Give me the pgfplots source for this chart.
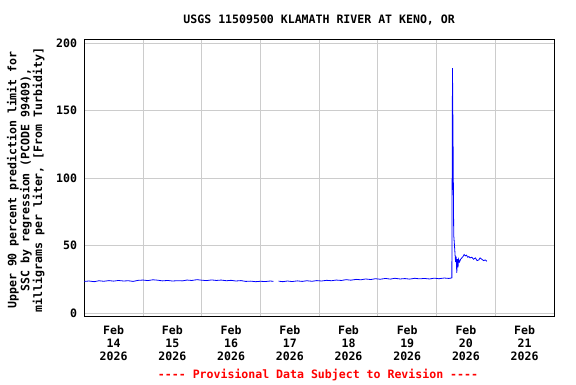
\documentclass[border=0pt]{standalone}
\usepackage{pgfplots}
\pgfplotsset{compat=1.18}
\usepackage{fontspec}
\setmainfont{DejaVu Sans Mono}
\setmonofont{DejaVu Sans Mono}
\definecolor{gridgray}{RGB}{204,204,204}
\definecolor{usgsblue}{RGB}{0,0,255}
\definecolor{usgsred}{RGB}{255,0,0}
\newcommand{\chfont}{\fontsize{11.6}{13}\selectfont\ttfamily\bfseries}
\begin{document}
\begin{tikzpicture}[x=1bp,y=1bp]
\path[use as bounding box] (-84.3,-68) rectangle (491.7,316);
\begin{axis}[
  at={(0,0)}, anchor=south west,
  scale only axis,
  width=469.7bp, height=276.5bp,
  xmin=0, xmax=8,
  ymin=-2.0, ymax=202.6,
  axis line style={black, line width=1bp},
  xtick={0.5,1.5,2.5,3.5,4.5,5.5,6.5,7.5},
  xticklabels={Feb\\14\\2026,Feb\\15\\2026,Feb\\16\\2026,Feb\\17\\2026,Feb\\18\\2026,Feb\\19\\2026,Feb\\20\\2026,Feb\\21\\2026},
  minor xtick={1,2,3,4,5,6,7},
  xminorgrids=true,
  xmajorgrids=false,
  ytick={0,50,100,150,200},
  ymajorgrids=true,
  major tick length=0pt,
  minor tick length=0pt,
  grid style={gridgray, line width=1bp},
  minor grid style={gridgray, line width=1bp},
  tick label style={font=\chfont, text=black},
  xticklabel style={align=center, anchor=north, inner sep=0pt, yshift=-9.5bp},
  yticklabel style={anchor=east, inner sep=0pt, xshift=-7bp},
  /pgf/number format/assume math mode=true,
  unbounded coords=jump,
  clip=true,
]
\addplot[usgsblue, line width=0.8bp] coordinates {
(0.00,23.6) (0.08,23.9) (0.17,23.4) (0.25,24.1) (0.33,23.7) (0.42,24.2)
(0.50,23.8) (0.58,24.3) (0.67,23.9) (0.75,24.1) (0.83,23.6) (0.92,24.4)
(1.00,24.6) (1.08,24.2) (1.17,24.8) (1.25,24.5) (1.33,24.0) (1.42,24.3)
(1.50,23.9) (1.58,24.1) (1.67,24.0) (1.75,24.6) (1.83,24.3) (1.92,24.9)
(2.00,24.5) (2.08,24.2) (2.17,24.7) (2.25,24.3) (2.33,24.6) (2.42,24.1)
(2.50,24.4) (2.58,23.9) (2.67,24.2) (2.75,23.6) (2.83,23.8) (2.92,23.4)
(3.00,23.7) (3.08,23.5) (3.17,23.9) (3.22,23.6)
(3.27,nan)
(3.31,23.8) (3.38,23.4) (3.46,23.9) (3.54,23.5) (3.63,24.0) (3.71,23.6)
(3.79,24.1) (3.88,23.7) (3.96,24.2) (4.04,23.9) (4.13,24.4) (4.21,24.1)
(4.29,24.6) (4.38,24.3) (4.46,24.9) (4.54,24.5) (4.63,25.1) (4.71,24.8)
(4.79,25.4) (4.88,25.0) (4.96,25.6) (5.04,25.2) (5.13,25.8) (5.21,25.3)
(5.29,25.9) (5.38,25.4) (5.46,25.7) (5.54,25.3) (5.63,25.9) (5.71,25.5)
(5.79,25.8) (5.88,25.4) (5.96,26.0) (6.04,25.6) (6.13,26.1) (6.21,25.8)
(6.26,26.2)
(6.2708,181.5) (6.2812,124) (6.2917,58) (6.302,52) (6.3125,45) (6.323,38)
(6.333,42) (6.344,30) (6.354,40) (6.365,34) (6.375,40) (6.39,38)
(6.41,40) (6.43,41) (6.45,42) (6.47,43.5) (6.49,42.5) (6.51,43)
(6.53,41.5) (6.55,42) (6.57,41) (6.60,41.5) (6.63,40) (6.66,41)
(6.69,39) (6.72,39.5) (6.74,41) (6.77,40) (6.80,39) (6.83,39.5)
(6.855,38.5)
};
\end{axis}
\node[font=\chfont] at (234.85,296) {USGS 11509500 KLAMATH RIVER AT KENO, OR};
\node[font=\chfont, rotate=90, align=center] at (-58.5,136) {Upper 90 percent prediction limit for\\SSC by regression (PCODE 99409),\\milligrams per liter, [From Turbidity]};
\node[font=\chfont, text=usgsred] at (233.7,-59) {---- Provisional Data Subject to Revision ----};
\end{tikzpicture}
\end{document}
